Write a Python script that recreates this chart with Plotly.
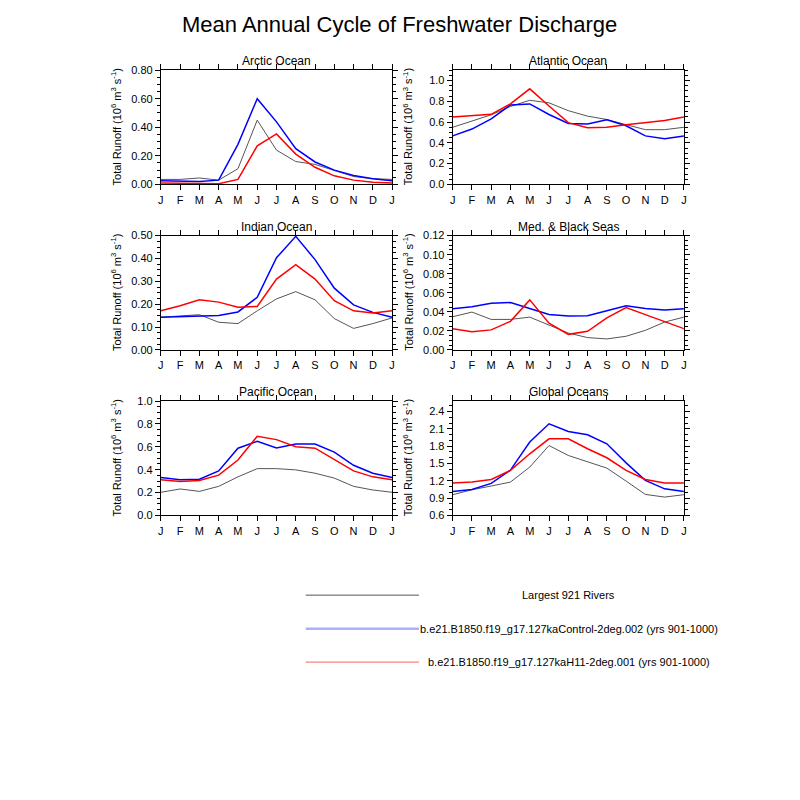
import plotly.graph_objects as go

months = ["J", "F", "M", "A", "M", "J", "J", "A", "S", "O", "N", "D", "J"]
xpos = list(range(13))

panel_titles = ["Arctic Ocean", "Atlantic Ocean", "Indian Ocean",
                "Med. & Black Seas", "Pacific Ocean", "Global Oceans"]

# Largest 921 Rivers (observations)
obs_arctic = [0.035, 0.035, 0.045, 0.03, 0.11, 0.45, 0.24, 0.16, 0.14, 0.10, 0.055, 0.04, 0.035]
obs_atlantic = [0.55, 0.61, 0.67, 0.75, 0.81, 0.785, 0.71, 0.657, 0.625, 0.575, 0.527, 0.527, 0.55]
obs_indian = [0.143, 0.15, 0.154, 0.121, 0.115, 0.171, 0.223, 0.255, 0.219, 0.137, 0.094, 0.115, 0.14]
obs_med = [0.0348, 0.0397, 0.032, 0.032, 0.0344, 0.026, 0.0177, 0.0129, 0.0115, 0.0143, 0.0205, 0.0292, 0.0344]
obs_pacific = [0.202, 0.231, 0.21, 0.254, 0.337, 0.409, 0.409, 0.398, 0.369, 0.326, 0.254, 0.222, 0.202]
obs_global = [0.958, 1.044, 1.108, 1.177, 1.437, 1.81, 1.638, 1.535, 1.419, 1.194, 0.963, 0.917, 0.958]

# Control run (blue)
ctl_arctic = [0.025, 0.02, 0.02, 0.03, 0.28, 0.60, 0.438, 0.25, 0.157, 0.10, 0.062, 0.04, 0.025]
ctl_atlantic = [0.467, 0.533, 0.63, 0.765, 0.775, 0.673, 0.587, 0.581, 0.622, 0.565, 0.467, 0.44, 0.467]
ctl_indian = [0.143, 0.145, 0.147, 0.15, 0.166, 0.23, 0.403, 0.497, 0.395, 0.27, 0.197, 0.164, 0.143]
ctl_med = [0.0431, 0.0452, 0.049, 0.0497, 0.0435, 0.0372, 0.0355, 0.0358, 0.041, 0.0463, 0.0435, 0.042, 0.0431]
ctl_pacific = [0.331, 0.311, 0.317, 0.389, 0.588, 0.648, 0.59, 0.625, 0.625, 0.553, 0.438, 0.369, 0.331]
ctl_global = [1.015, 1.05, 1.154, 1.385, 1.87, 2.187, 2.054, 1.996, 1.84, 1.51, 1.206, 1.06, 1.015]

# H11 run (red)
h11_arctic = [0.01, 0.008, 0.005, 0.005, 0.035, 0.27, 0.353, 0.212, 0.12, 0.06, 0.03, 0.015, 0.01]
h11_atlantic = [0.65, 0.66, 0.675, 0.775, 0.92, 0.755, 0.595, 0.545, 0.55, 0.575, 0.595, 0.615, 0.65]
h11_indian = [0.171, 0.193, 0.219, 0.209, 0.187, 0.19, 0.31, 0.373, 0.31, 0.215, 0.171, 0.161, 0.171]
h11_med = [0.0223, 0.019, 0.021, 0.030, 0.0525, 0.028, 0.0163, 0.0195, 0.0337, 0.0445, 0.037, 0.0296, 0.0223]
h11_pacific = [0.311, 0.297, 0.305, 0.352, 0.484, 0.692, 0.663, 0.60, 0.588, 0.49, 0.389, 0.337, 0.311]
h11_global = [1.16, 1.177, 1.223, 1.379, 1.667, 1.927, 1.927, 1.754, 1.598, 1.379, 1.223, 1.16, 1.16]

obs = [obs_arctic, obs_atlantic, obs_indian, obs_med, obs_pacific, obs_global]
ctl = [ctl_arctic, ctl_atlantic, ctl_indian, ctl_med, ctl_pacific, ctl_global]
h11 = [h11_arctic, h11_atlantic, h11_indian, h11_med, h11_pacific, h11_global]

# y-axis settings
yranges = [(0, 0.8), (0, 1.1), (0, 0.5), (0, 0.12), (0, 1.0), (0.6, 2.58)]
ymajor = [0.2, 0.2, 0.1, 0.02, 0.2, 0.3]
yminor = [0.05, 0.05, 0.025, 0.005, 0.05, 0.1]
yfmt = [".2f", ".1f", ".2f", ".2f", ".1f", ".1f"]

legend_labels = ["Largest 921 Rivers",
                 "b.e21.B1850.f19_g17.127kaControl-2deg.002 (yrs 901-1000)",
                 "b.e21.B1850.f19_g17.127kaH11-2deg.001 (yrs 901-1000)"]

W = H = 800
OFF = 8  # default page body margin
FONT = "Liberation Sans, Arial, Helvetica, sans-serif"


def px(v):
    return (v - OFF) / W


def py(v):
    return 1 - (v - OFF) / H


# panel pixel boxes (left, right) and (top, bottom) in screen pixels
cols = [(159, 392), (453, 686)]
rows = [(65, 181), (233, 349), (401, 517)]

fig = go.Figure()
annotations = []
layout = {}
for i in range(6):
    r, c = divmod(i, 2)
    xl, xr = cols[c]
    yt, yb = rows[r]
    n = i + 1
    xa = "x" if n == 1 else f"x{n}"
    ya = "y" if n == 1 else f"y{n}"
    for series, color, width in ((obs[i], "#555555", 1.0),
                                 (ctl[i], "#0000ff", 1.5),
                                 (h11[i], "#ff0000", 1.5)):
        fig.add_trace(go.Scatter(x=xpos, y=series, mode="lines", xaxis=xa, yaxis=ya,
                                 line=dict(color=color, width=width), showlegend=False,
                                 hoverinfo="skip"))
    xkey = "xaxis" if n == 1 else f"xaxis{n}"
    ykey = "yaxis" if n == 1 else f"yaxis{n}"
    layout[xkey] = dict(domain=[px(xl), px(xr)], anchor=ya, range=[0, 12],
                        tickmode="array", tickvals=xpos, ticktext=months,
                        ticks="outside", ticklen=5, tickwidth=1, tickcolor="black",
                        showline=True, linecolor="black", linewidth=1, mirror="allticks",
                        showgrid=False, zeroline=False,
                        tickfont=dict(family=FONT, size=11, color="black"))
    y0, y1 = yranges[i]
    layout[ykey] = dict(domain=[py(yb), py(yt)], anchor=xa, range=[y0, y1],
                        tick0=y0, dtick=ymajor[i], tickformat=yfmt[i],
                        ticks="outside", ticklen=5, tickwidth=1, tickcolor="black",
                        minor=dict(ticks="outside", ticklen=3, dtick=yminor[i], tick0=y0,
                                   tickcolor="black", showgrid=False),
                        showline=True, linecolor="black", linewidth=1, mirror="allticks",
                        showgrid=False, zeroline=False,
                        tickfont=dict(family=FONT, size=11, color="black"))
    annotations.append(dict(text=panel_titles[i], x=px((xl + xr) / 2), y=py(yt - 9),
                            xref="paper", yref="paper", xanchor="center", yanchor="middle",
                            showarrow=False, font=dict(family=FONT, size=12, color="black")))
    annotations.append(dict(text="Total Runoff (10<sup>6</sup> m<sup>3</sup> s<sup>-1</sup>)",
                            x=px(xl - 45), y=py((yt + yb) / 2), xref="paper", yref="paper",
                            xanchor="center", yanchor="middle", textangle=-90, showarrow=False,
                            font=dict(family=FONT, size=11, color="black")))

annotations.append(dict(text="Mean Annual Cycle of Freshwater Discharge", x=px(399), y=py(19),
                        xref="paper", yref="paper", xanchor="center", yanchor="middle",
                        showarrow=False, font=dict(family=FONT, size=22, color="black")))

shapes = []
leg_y = [598, 632, 666]
leg_colors = ["#555555", "#aab0ff", "#ff8080"]
leg_widths = [1, 2.5, 1.2]
for k in range(3):
    shapes.append(dict(type="line", xref="paper", yref="paper", x0=px(305), x1=px(419),
                       y0=py(leg_y[k]), y1=py(leg_y[k]),
                       line=dict(color=leg_colors[k], width=leg_widths[k])))
    annotations.append(dict(text=legend_labels[k], x=px(570), y=py(leg_y[k]),
                            xref="paper", yref="paper", xanchor="center", yanchor="middle",
                            showarrow=False, font=dict(family=FONT, size=11, color="black")))

fig.update_layout(width=W, height=H, margin=dict(l=0, r=0, t=0, b=0),
                  paper_bgcolor="white", plot_bgcolor="white",
                  annotations=annotations, shapes=shapes, showlegend=False, **layout)

fig.write_html("out.html", config={"displayModeBar": False})
